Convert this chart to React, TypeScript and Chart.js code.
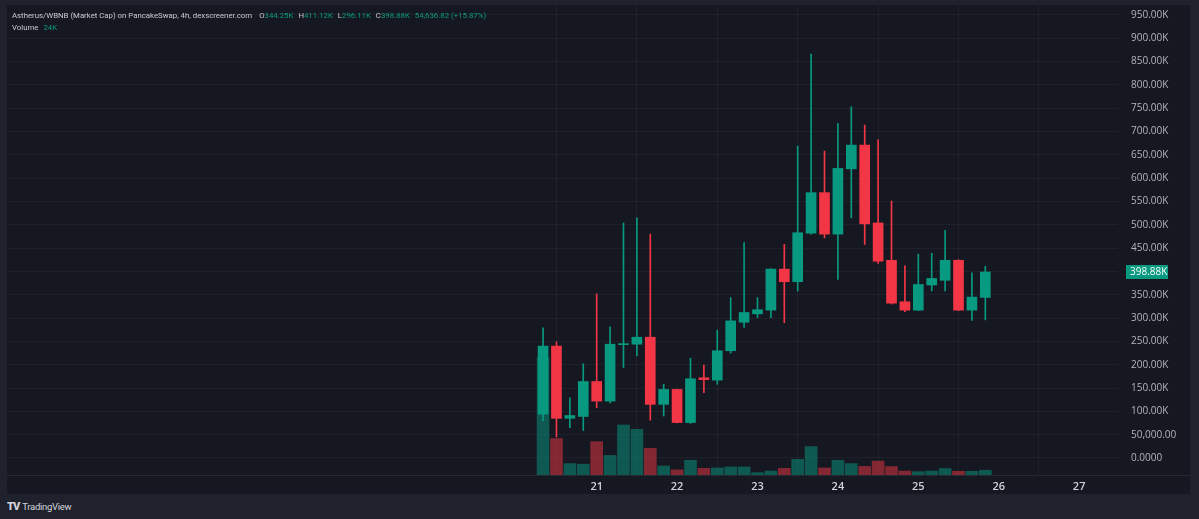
import React, { useEffect, useRef } from "react";
import { Chart, registerables } from "chart.js";

Chart.register(...registerables);

// ---- data (market cap in K, 4h candles starting 20th 08:00) ----
const OPEN = [94, 240, 85, 89, 164, 122, 243, 244, 259, 115, 147, 76, 172, 167, 230, 291, 309, 317, 405, 378, 482, 569, 480, 620, 671, 504, 424, 335, 317, 371, 381, 424, 317, 344.25];
const HIGH = [279, 249, 129, 202, 352, 281, 504, 515, 480, 158, 148, 214, 199, 274, 344, 462, 344, 406, 458, 669, 866, 658, 717, 753, 714, 682, 551, 412, 437, 439, 488, 425, 397, 411.12];
const LOW = [80, 45, 65, 59, 108, 118, 194, 219, 81, 90, 75, 74, 140, 158, 225, 280, 301, 301, 290, 358, 480, 472, 383, 515, 458, 417, 330, 314, 316, 358, 358, 316, 295, 296.11];
const CLOSE = [240, 85, 91, 164, 122, 244, 245, 259, 115, 147, 76, 170, 168, 230, 294, 312, 318, 405, 378, 483, 569, 480, 621, 671, 502, 422, 332, 317, 372, 385, 424, 317, 345, 398.88];
const VOLUME = [600, 186, 58, 55, 170, 100, 255, 233, 136, 46, 26, 75, 34, 36, 41, 41, 12, 20, 34, 80, 145, 36, 75, 58, 44, 71, 43, 20, 17, 20, 33, 19, 19, 24];

const DAY_LABELS = ["21", "22", "23", "24", "25", "26", "27"];
const FIRST_DAY_INDEX = 4;
const CANDLES_PER_DAY = 6;
const PRICE_TICKS = [0, 50, 100, 150, 200, 250, 300, 350, 400, 450, 500, 550, 600, 650, 700, 750, 800, 850, 900, 950];

const UP = "#089981";
const DOWN = "#f23645";
const UP_VOL = "rgba(8,153,129,0.5)";
const DOWN_VOL = "rgba(242,54,69,0.5)";

function fmtPrice(v: number): string {
  if (v === 0) return "0.0000";
  if (v < 100) return (v * 1000).toLocaleString("en-US", { minimumFractionDigits: 2, maximumFractionDigits: 2 });
  return v.toFixed(2) + "K";
}

export default function App() {
  const ref = useRef<HTMLCanvasElement | null>(null);

  useEffect(() => {
    if (!ref.current) return;
    const isUp = OPEN.map((o, i) => CLOSE[i] >= o);
    const bodies = OPEN.map((o, i) => ({ x: i, y: [o, CLOSE[i]] }));
    const wicks = OPEN.map((_, i) => ({ x: i, y: [LOW[i], HIGH[i]] }));
    const vols = VOLUME.map((v, i) => ({ x: i, y: v }));
    const lastClose = CLOSE[CLOSE.length - 1];

    const priceTag = {
      id: "priceTag",
      afterDraw(chart: any) {
        const ys = chart.scales.y;
        const ctx = chart.ctx;
        const y = ys.getPixelForValue(lastClose);
        const x0 = chart.chartArea.right + 8;
        ctx.save();
        ctx.fillStyle = UP;
        ctx.fillRect(x0, Math.round(y) - 7, 42, 14);
        ctx.fillStyle = "#ffffff";
        ctx.font = "10px 'Open Sans'";
        ctx.textBaseline = "middle";
        ctx.textAlign = "left";
        ctx.fillText(fmtPrice(lastClose), x0 + 4, Math.round(y) + 0.5);
        ctx.restore();
      },
    };

    const noPad = (axis: any) => {
      axis.paddingTop = 0;
      axis.paddingBottom = 0;
      axis.paddingLeft = 0;
      axis.paddingRight = 0;
    };

    const chart = new Chart(ref.current, {
      type: "bar",
      data: {
        datasets: [
          {
            label: "Volume",
            data: vols as any,
            yAxisID: "vol",
            backgroundColor: isUp.map((u) => (u ? UP_VOL : DOWN_VOL)),
            barThickness: 12,
            grouped: false,
            order: 3,
          } as any,
          {
            label: "Wick",
            data: wicks as any,
            yAxisID: "y",
            backgroundColor: isUp.map((u) => (u ? UP : DOWN)),
            barThickness: 1,
            grouped: false,
            order: 2,
          } as any,
          {
            label: "Body",
            data: bodies as any,
            yAxisID: "y",
            backgroundColor: isUp.map((u) => (u ? UP : DOWN)),
            barThickness: 10,
            minBarLength: 1,
            grouped: false,
            order: 1,
          } as any,
        ],
      },
      options: {
        animation: false,
        responsive: false,
        maintainAspectRatio: false,
        layout: { padding: 0 },
        plugins: { legend: { display: false }, tooltip: { enabled: false } },
        scales: {
          x: {
            type: "linear",
            min: -40.0,
            max: 42.9,
            offset: false,
            grid: { color: "rgba(255,255,255,0.045)", drawTicks: false },
            border: { display: false },
            afterBuildTicks: (axis: any) => {
              axis.ticks = DAY_LABELS.map((_, k) => ({ value: FIRST_DAY_INDEX + k * CANDLES_PER_DAY }));
            },
            afterFit: (axis: any) => {
              axis.height = 19;
              noPad(axis);
            },
            ticks: {
              color: "#d1d4dc",
              padding: 5,
              maxRotation: 0,
              autoSkip: false,
              font: { family: "'Open Sans'", size: 11, weight: "600" },
              callback: (v: any) => {
                const k = Math.round((Number(v) - FIRST_DAY_INDEX) / CANDLES_PER_DAY);
                return DAY_LABELS[k] ?? "";
              },
            },
          },
          y: {
            position: "right",
            min: -36.5,
            max: 971.4,
            grid: { color: "rgba(255,255,255,0.045)", drawTicks: false },
            border: { display: false },
            afterBuildTicks: (axis: any) => {
              axis.ticks = PRICE_TICKS.map((v) => ({ value: v }));
            },
            afterFit: (axis: any) => {
              axis.width = 72;
              noPad(axis);
            },
            ticks: {
              color: "#b2b5be",
              padding: 13,
              autoSkip: false,
              font: { family: "'Open Sans'", size: 10 },
              callback: (v: any) => (Number(v) === 400 ? "" : fmtPrice(Number(v))),
            },
          },
          vol: {
            display: false,
            min: 0,
            max: 2397,
            grid: { display: false },
            afterFit: (axis: any) => noPad(axis),
          },
        },
      },
      plugins: [priceTag],
    });
    return () => chart.destroy();
  }, []);

  const lbl = { color: "#c7cad3" } as React.CSSProperties;
  const val = { color: "#0c9b7e" } as React.CSSProperties;

  return (
    <div
      style={{
        position: "fixed",
        left: 0,
        top: 0,
        width: 1199,
        height: 519,
        background: "#1f222c",
        overflow: "hidden",
        fontFamily: "Roboto, 'Open Sans', sans-serif",
      }}
    >
      <div
        style={{
          position: "absolute",
          left: 7,
          top: 5,
          width: 1183,
          height: 489,
          background: "#151821",
        }}
      >
        <canvas ref={ref} width={1183} height={489} style={{ display: "block" }} />
        <div style={{ position: "absolute", left: 0, top: 470, width: 1183, height: 1, background: "#272a33" }} />
      </div>
      <div style={{ position: "absolute", left: 12, top: 10, fontSize: 7.8, lineHeight: "12px", whiteSpace: "nowrap" }}>
        <div>
          <span style={lbl}>Astherus/WBNB (Market Cap) on PancakeSwap, 4h, dexscreener.com</span>
          <span style={{ ...lbl, marginLeft: 7 }}>O</span>
          <span style={val}>344.25K</span>
          <span style={{ ...lbl, marginLeft: 5 }}>H</span>
          <span style={val}>411.12K</span>
          <span style={{ ...lbl, marginLeft: 5 }}>L</span>
          <span style={val}>296.11K</span>
          <span style={{ ...lbl, marginLeft: 5 }}>C</span>
          <span style={val}>398.88K</span>
          <span style={{ ...val, marginLeft: 5 }}>54,636.82 (+15.87%)</span>
        </div>
        <div>
          <span style={lbl}>Volume</span>
          <span style={{ ...val, marginLeft: 5 }}>24K</span>
        </div>
      </div>
      <div
        style={{
          position: "absolute",
          left: 7,
          top: 500,
          color: "#d1d4dc",
          fontSize: 9.5,
          lineHeight: "14px",
          whiteSpace: "nowrap",
          display: "flex",
          alignItems: "center",
        }}
      >
        <span style={{ fontWeight: 900, fontSize: 11, letterSpacing: -1, marginRight: 3 }}>TV</span>
        <span style={{ letterSpacing: -0.3 }}>TradingView</span>
      </div>
    </div>
  );
}
